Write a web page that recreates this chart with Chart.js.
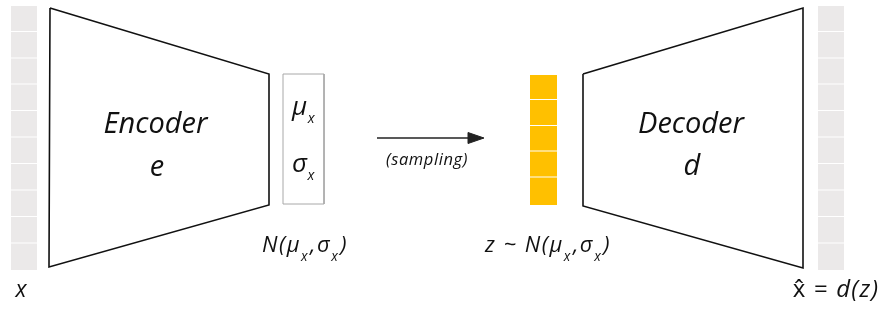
<!DOCTYPE html>
<html>
<head>
<meta charset="utf-8">
<script src="https://cdn.jsdelivr.net/npm/chart.js@4/dist/chart.umd.min.js"></script>
<style>
  html, body { margin: 0; padding: 0; background: #fff; }
  canvas { display: block; }
</style>
</head>
<body>
<canvas id="vae" width="883" height="309"></canvas>
<script>
// --- diagram data (x, y in picture units; y grows downward) ---
var cellTops    = [6, 32, 58.5, 84.5, 111, 137.5, 164, 190.5, 217, 243.5];
var cellBottoms = [31, 57.5, 83.5, 110, 136.5, 163, 189.5, 216, 242.5, 270];
var inputX  = [11, 37];
var outputX = [818, 844];

var latentTops    = [75, 100, 126, 151.5, 177.5];
var latentBottoms = [99, 125, 150.5, 176.5, 205];
var latentX = [530, 557];

var encoderShape = [[50, 8], [269, 74], [269, 205], [49, 267], [50, 8]];
var decoderShape = [[583, 74], [803, 8], [803, 268], [583, 206], [583, 74]];
var paramBox     = [[283, 74], [324, 74], [324, 204], [283, 204], [283, 74]];
var arrowLine    = [[377, 138], [470, 138]];
var arrowHead    = [[468, 132.5], [484, 138], [468, 143.5], [468, 132.5]];

// labels
var labels = {
  encoder: "Encoder", e: "e",
  decoder: "Decoder", d: "d",
  sampling: "(sampling)",
  input: "x"
};

function pts(list) {
  return list.map(function (p) { return { x: p[0], y: p[1] }; });
}
function rect(x0, x1, y0, y1) {
  return pts([[x0, y0], [x1, y0], [x1, y1], [x0, y1], [x0, y0]]);
}

var datasets = [];
function addCells(xs, tops, bottoms, color) {
  for (var i = 0; i < tops.length; i++) {
    datasets.push({
      data: rect(xs[0], xs[1], tops[i], bottoms[i]),
      showLine: true, fill: 'shape', backgroundColor: color,
      borderColor: 'rgba(0,0,0,0)', borderWidth: 1, pointRadius: 0
    });
  }
}
function addOutline(list, color, width, fillColor) {
  datasets.push({
    data: pts(list), showLine: true, borderColor: color, borderWidth: width,
    pointRadius: 0, fill: fillColor ? 'shape' : false,
    backgroundColor: fillColor || 'rgba(0,0,0,0)', borderJoinStyle: 'miter'
  });
}

addCells(inputX, cellTops, cellBottoms, '#ebe9e9');
addCells(outputX, cellTops, cellBottoms, '#ebe9e9');
addCells(latentX, latentTops, latentBottoms, '#ffc000');
addOutline(encoderShape, '#111', 1.6);
addOutline(decoderShape, '#111', 1.6);
addOutline(paramBox, '#a8a8a8', 1);
addOutline(arrowLine, '#222', 1.7);
addOutline(arrowHead, '#222', 1, '#222');

var FONT = '"Open Sans", "Noto Sans", sans-serif';

// draws a run of [text, isSub, upright] pieces
function rich(ctx, sx, sy, parts, size, x, y, align, spacing, subRatio, subDrop) {
  var px = sx.getPixelForValue(x), py = sy.getPixelForValue(y);
  var sr = subRatio || 0.55;
  var drop = subDrop || 0.33;
  ctx.letterSpacing = (spacing || 0) + 'px';
  function setFont(p) {
    var s = p[1] ? size * sr : size;
    ctx.font = (p[2] ? '' : 'italic ') + s + 'px ' + FONT;
  }
  var widths = parts.map(function (p) {
    setFont(p);
    return ctx.measureText(p[0]).width + (p[1] ? 1 : 0);
  });
  var total = widths.reduce(function (a, b) { return a + b; }, 0);
  var cx = align === 'center' ? px - total / 2 : px;
  parts.forEach(function (p, i) {
    setFont(p);
    ctx.fillText(p[0], cx, p[1] ? py + size * drop : py);
    cx += widths[i];
  });
  ctx.letterSpacing = '0px';
}

var textPlugin = {
  id: 'diagramText',
  afterDatasetsDraw: function (chart) {
    var ctx = chart.ctx, sx = chart.scales.x, sy = chart.scales.y;
    ctx.save();
    ctx.fillStyle = '#111';
    ctx.textAlign = 'left';
    ctx.textBaseline = 'alphabetic';
    rich(ctx, sx, sy, [[labels.encoder]], 29, 155.5, 133, 'center');
    rich(ctx, sx, sy, [[labels.e]], 29, 157, 176, 'center');
    rich(ctx, sx, sy, [[labels.decoder]], 29, 691, 133, 'center');
    rich(ctx, sx, sy, [[labels.d]], 29, 692, 175, 'center');
    rich(ctx, sx, sy, [['\u03bc'], ['x', true]], 26, 304, 115, 'center', 0.5, 0.55, 0.32);
    rich(ctx, sx, sy, [['\u03c3'], ['x', true]], 26, 304, 172, 'center', 0.5, 0.55, 0.32);
    var dist = [['N(\u03bc'], ['x', true], [',\u03c3'], ['x', true], [')']];
    rich(ctx, sx, sy, dist, 22, 305, 252, 'center', 1.5, 0.62, 0.4);
    rich(ctx, sx, sy, [['z ~ ']].concat(dist), 22, 548, 252, 'center', 1.5, 0.62, 0.4);
    rich(ctx, sx, sy, [[labels.sampling]], 16.5, 427, 165, 'center', 0.6);
    rich(ctx, sx, sy, [[labels.input]], 23, 21, 297, 'center');
    rich(ctx, sx, sy, [['x\u0302', false, true], [' = ', false, true], ['d(z)']], 24, 836, 297, 'center', 1.2);
    ctx.restore();
  }
};

new Chart(document.getElementById('vae'), {
  type: 'scatter',
  data: { datasets: datasets },
  options: {
    responsive: false,
    animation: false,
    layout: { padding: 0 },
    plugins: { legend: { display: false }, tooltip: { enabled: false } },
    scales: {
      x: { type: 'linear', min: 0, max: 883, display: false },
      y: { type: 'linear', min: 0, max: 309, reverse: true, display: false }
    }
  },
  plugins: [textPlugin]
});
</script>
</body>
</html>
